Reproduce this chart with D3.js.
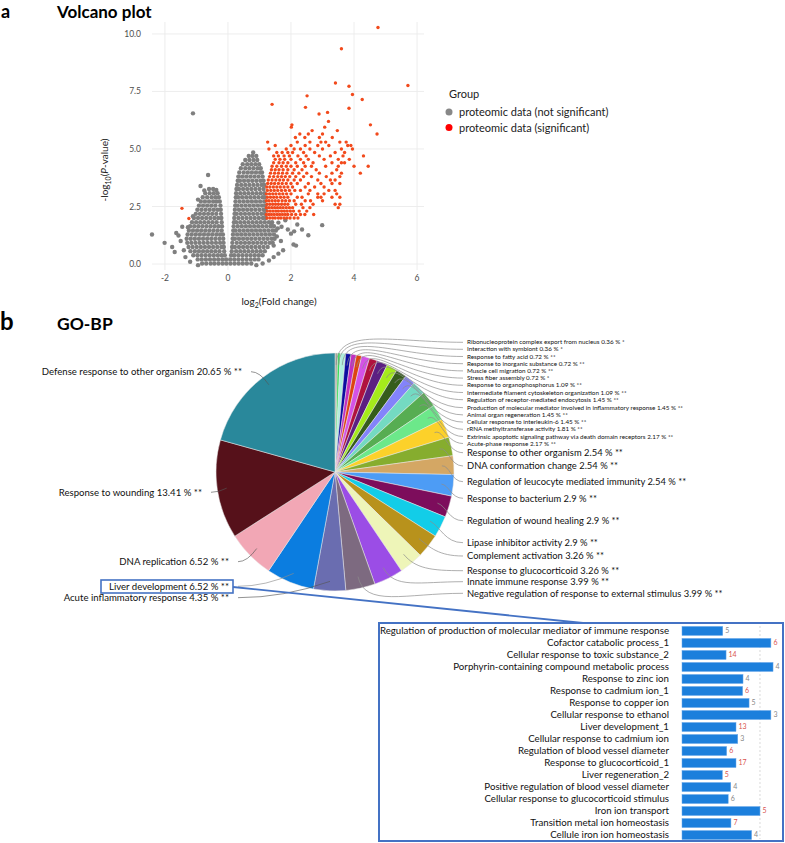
<!DOCTYPE html>
<html><head><meta charset="utf-8">
<script src="https://cdn.jsdelivr.net/npm/d3@7"></script>
<style>
body{margin:0;background:#fff}
svg{display:block}
text{font-family:Lato,"Open Sans","DejaVu Sans",sans-serif}
</style>
</head><body>
<svg id="chart" width="785" height="843"></svg>
<script>
// ---------------- DATA ----------------
const volcanoXTicks = [-2, 0, 2, 4, 6];
const volcanoYTicks = [0, 2.5, 5, 7.5, 10];
const legendTitle = "Group";
const legendLabels = ["proteomic data (not significant)", "proteomic data (significant)"];

// dense non-significant cloud, read row by row: [log10P, [log2FC ...]]
const grayRows = [
  [0.02, [-0.82,-0.69,-0.55,-0.43,-0.3,-0.17,-0.05,0.08,0.21,0.34,0.47,0.6,0.74]],
  [0.2,  [-0.96,-0.83,-0.7,-0.57,-0.44,-0.31,-0.18,-0.06,0.07,0.2,0.33,0.46,0.59,0.72,0.85,0.97]],
  [0.38, [-1.1,-0.97,-0.84,-0.71,-0.58,-0.45,-0.32,-0.2,-0.1,0.1,0.2,0.33,0.46,0.59,0.72,0.85,0.98,1.1]],
  [0.56, [-1.19,-1.05,-0.92,-0.79,-0.66,-0.53,-0.4,-0.27,-0.12,0.12,0.26,0.39,0.52,0.65,0.78,0.91,1.04,1.17]],
  [0.74, [-1.25,-1.12,-0.99,-0.86,-0.73,-0.6,-0.47,-0.34,-0.21,-0.13,0.13,0.22,0.35,0.48,0.61,0.74,0.87,1.0,1.13,1.26]],
  [0.92, [-1.29,-1.16,-1.03,-0.9,-0.77,-0.64,-0.51,-0.38,-0.25,-0.14,0.14,0.28,0.41,0.54,0.67,0.8,0.93,1.06,1.19,1.32,1.42]],
  [1.1,  [-1.31,-1.18,-1.05,-0.92,-0.79,-0.66,-0.53,-0.4,-0.27,-0.15,0.15,0.22,0.35,0.48,0.61,0.74,0.87,1.0,1.13,1.26,1.39,1.48]],
  [1.28, [-1.28,-1.15,-1.02,-0.89,-0.76,-0.63,-0.5,-0.37,-0.25,-0.16,0.16,0.29,0.42,0.55,0.68,0.81,0.94,1.07,1.2,1.33,1.46]],
  [1.46, [-1.24,-1.11,-0.98,-0.85,-0.72,-0.59,-0.46,-0.33,-0.2,0.17,0.24,0.37,0.5,0.63,0.76,0.89,1.02,1.15,1.28,1.41,1.52]],
  [1.64, [-1.2,-1.07,-0.94,-0.81,-0.68,-0.55,-0.42,-0.3,-0.19,0.18,0.31,0.44,0.57,0.7,0.83,0.96,1.09,1.22,1.35,1.46]],
  [1.82, [-1.14,-1.01,-0.88,-0.75,-0.62,-0.49,-0.36,-0.2,0.19,0.26,0.39,0.52,0.65,0.78,0.91,1.04,1.17,1.3,1.4]],
  [2.0,  [-1.08,-0.95,-0.82,-0.69,-0.56,-0.43,-0.31,-0.21,0.2,0.33,0.46,0.59,0.72,0.85,0.98,1.11,1.2]],
  [2.18, [-1.02,-0.89,-0.76,-0.63,-0.5,-0.37,-0.22,0.21,0.28,0.41,0.54,0.67,0.8,0.93,1.06,1.17]],
  [2.36, [-0.97,-0.84,-0.71,-0.58,-0.45,-0.33,-0.23,0.22,0.35,0.48,0.61,0.74,0.87,1.0,1.13,1.19]],
  [2.54, [-0.92,-0.79,-0.66,-0.53,-0.4,-0.24,0.23,0.3,0.43,0.56,0.69,0.82,0.95,1.08,1.18]],
  [2.72, [-0.86,-0.73,-0.6,-0.47,-0.36,-0.26,0.24,0.37,0.5,0.63,0.76,0.89,1.02,1.15]],
  [2.9,  [-0.8,-0.66,-0.52,-0.4,-0.29,0.25,0.32,0.45,0.58,0.71,0.84,0.97,1.1,1.17]],
  [3.08, [-0.72,-0.58,-0.45,-0.33,0.26,0.39,0.52,0.65,0.78,0.91,1.04,1.16]],
  [3.26, [-0.6,-0.47,0.27,0.35,0.48,0.61,0.74,0.87,1.0,1.13]],
  [3.44, [0.29,0.42,0.55,0.68,0.81,0.94,1.07,1.15]],
  [3.62, [0.31,0.38,0.51,0.64,0.77,0.9,1.03,1.13]],
  [3.8,  [0.33,0.45,0.58,0.71,0.84,0.97,1.1]],
  [3.98, [0.36,0.5,0.63,0.76,0.89,1.02,1.08]],
  [4.16, [0.41,0.55,0.68,0.81,0.94,1.04]],
  [4.34, [0.47,0.61,0.74,0.87,0.99]],
  [4.52, [0.55,0.68,0.81,0.93]],
  [4.7,  [0.66,0.78,0.9]]
];
// scattered non-significant proteins: [log2FC, log10P]
const grayExtra = [
  [-2.41,1.28],[-2.01,0.92],[-1.77,0.74],[-1.69,0.52],[-1.64,1.35],[-1.57,1.24],[-1.45,1.62],
  [-1.5,1.0],[-1.4,0.6],[-1.27,1.6],[-1.11,2.08],[-0.87,3.39],[-0.63,3.87],[-0.37,3.22],
  [-1.11,6.55],[-0.95,2.8],[-0.75,3.2],[-1.35,0.3],[-1.2,0.1],[-0.95,-0.05],[0.9,-0.05],[1.1,0.02],
  [1.6,1.8],[1.7,1.62],[1.82,1.9],[1.55,1.2],[1.68,1.0],[1.9,1.5],[2.0,1.32],[2.1,1.42],
  [2.2,1.72],[2.35,1.5],[2.08,0.85],[2.16,0.8],[2.55,1.25],[2.99,1.69],[1.75,0.6],[1.6,0.45],
  [1.45,0.3],[1.3,0.15],[1.45,0.8],[0.8,4.85],[1.58,1.55],[1.38,1.7]
];
// significant proteins, read row by row: [log10P, [log2FC ...]]
const redRows = [
  [2.0,  [1.24,1.33,1.42,1.5,1.6,1.68,1.78,1.87,1.97,2.1,2.22]],
  [2.15, [1.22,1.3,1.38,1.47,1.56,1.64,1.73,1.82,1.9,2.02,2.15,2.3,2.44,2.72]],
  [2.3,  [1.25,1.34,1.43,1.52,1.6,1.7,1.79,1.88,1.98,2.08,2.26,2.5]],
  [2.45, [1.22,1.3,1.39,1.48,1.57,1.66,1.75,1.85,1.95,2.05,2.38,2.6,3.5]],
  [2.6,  [1.24,1.33,1.42,1.51,1.6,1.7,1.8,1.9,2.15,2.33,2.7,3.4,3.55]],
  [2.75, [1.22,1.3,1.4,1.5,1.6,1.72,1.83,1.95,2.1,2.45,2.62,3.0]],
  [2.9,  [1.25,1.35,1.45,1.55,1.67,1.78,1.9,2.2,2.35,2.85,2.95,3.3,3.55]],
  [3.05, [1.22,1.32,1.42,1.52,1.63,1.74,1.86,2.0,2.55,2.85,3.05,3.45]],
  [3.2,  [1.25,1.36,1.47,1.58,1.7,1.82,1.95,2.12,2.3,2.6,3.2,3.4]],
  [3.35, [1.23,1.33,1.44,1.55,1.66,1.78,1.9,2.05,2.45,2.75,3.05]],
  [3.5,  [1.26,1.37,1.48,1.6,1.72,1.85,2.0,2.2,2.55,2.95,3.3,3.55]],
  [3.65, [1.28,1.4,1.52,1.64,1.76,1.9,2.1,2.3,2.85,3.25,3.4]],
  [3.8,  [1.32,1.45,1.58,1.7,1.82,1.96,2.15,2.4,2.65,3.12,3.55]],
  [3.95, [1.35,1.48,1.6,1.73,1.87,2.05,2.25,2.5,2.9,3.3,3.6,4.2]],
  [4.1,  [1.38,1.5,1.62,1.75,1.9,2.1,2.35,2.8,3.45]],
  [4.25, [1.4,1.55,1.7,1.85,2.0,2.2,2.45,2.65,3.1,3.5,4.0,4.45]],
  [4.4,  [1.45,1.62,1.75,1.9,2.15,2.4,2.7,3.3,3.6,3.7]],
  [4.55, [1.5,1.65,1.8,2.0,2.3,2.55,3.05,3.5,3.85]],
  [4.7,  [1.45,1.6,1.78,1.95,2.22,2.48,2.9,3.25,3.65,4.3]],
  [4.85, [1.55,1.72,1.9,2.05,2.4,2.75,3.4,3.7]],
  [5.0,  [1.3,1.85,2.1,2.3,2.6,3.0,3.6,3.95]],
  [5.15, [1.5,2.0,2.45,2.85,3.2,3.8,3.9]],
  [5.3,  [1.26,2.2,2.6,2.95,3.1,3.55,3.75]],
  [5.5,  [2.14,2.44,2.9,3.31]],
  [5.65, [2.28,2.55,3.0,4.73]],
  [5.8,  [2.67,3.47]],
  [5.95, [2.01,3.07]],
  [6.05, [2.03,4.52]],
  [6.2,  [3.19]]
];
const redExtra = [
  [2.89,6.52],[3.16,6.59],[3.84,6.77],[2.46,6.81],[1.40,6.94],[2.51,7.31],[4.26,7.15],
  [3.95,7.37],[3.84,7.73],[3.41,7.87],[5.71,7.76],[3.60,9.36],[4.76,10.28],
  [-1.46,2.42],[-1.24,1.98]
];

// GO-BP pie (clockwise from 12 o'clock)
const goTerms = [
  "Ribonucleoprotein complex export from nucleus","Interaction with symbiont","Response to fatty acid",
  "Response to inorganic substance","Muscle cell migration","Stress fiber assembly",
  "Response to organophosphorus","Intermediate filament cytoskeleton organization",
  "Regulation of receptor-mediated endocytosis","Production of molecular mediator involved in inflammatory response",
  "Animal organ regeneration","Cellular response to interleukin-6","rRNA methyltransferase activity",
  "Extrinsic apoptotic signaling pathway via death domain receptors","Acute-phase response",
  "Response to other organism","DNA conformation change","Regulation of leucocyte mediated immunity",
  "Response to bacterium","Regulation of wound healing","Lipase inhibitor activity","Complement activation",
  "Response to glucocorticoid","Innate immune response","Negative regulation of response to external stimulus",
  "Acute inflammatory response","Liver development","DNA replication","Response to wounding",
  "Defense response to other organism"
];
const goPercent = [0.36,0.36,0.72,0.72,0.72,0.72,1.09,1.09,1.45,1.45,1.45,1.45,1.81,2.17,2.17,
  2.54,2.54,2.54,2.9,2.9,2.9,3.26,3.26,3.99,3.99,4.35,6.52,6.52,13.41,20.65];
const goStars = ["*","*","**","**","**","*","**","**","**","**","**","**","**","**","**",
  "**","**","**","**","**","**","**","**","**","**","**","**","**","**","**"];

// Liver development detail bars
const barTerms = [
  "Regulation of production of molecular mediator of immune response","Cofactor catabolic process_1",
  "Cellular response to toxic substance_2","Porphyrin-containing compound metabolic process",
  "Response to zinc ion","Response to cadmium ion_1","Response to copper ion","Cellular response to ethanol",
  "Liver development_1","Cellular response to cadmium ion","Regulation of blood vessel diameter",
  "Response to glucocorticoid_1","Liver regeneration_2","Positive regulation of blood vessel diameter",
  "Cellular response to glucocorticoid stimulus","Iron ion transport","Transition metal ion homeostasis",
  "Cellule iron ion homeostasis"
];
const barValues = [2.09,4.56,2.26,4.67,3.13,3.11,3.44,4.56,2.77,2.86,2.29,2.77,2.07,2.5,2.37,4.0,2.51,3.57];
const barCounts = ["5","6","14","4","4","6","5","3","13","3","6","17","5","4","6","5","7","4"];
const barMarked = [false,true,true,false,false,true,false,false,true,false,true,true,true,false,false,true,true,false];

// ---------------- STYLE ----------------
const goColors = ["#a6a69a","#3adb5c","#aeeedd","#0c0ca0","#c12fc0","#dd4411","#d452e6","#b0123e",
  "#5c1f82","#a5eb1b","#365d1c","#8383fb","#74dac2","#57ad52","#6ce88a","#fcd12a","#86ad2e","#d4a764",
  "#4d9cf5","#7d0d5c","#12cde8","#b8921c","#eef5b8","#9b4de6","#7d6a80","#6a6db0","#0b7de0","#f2a7b5",
  "#56111a","#29889b"];
const labelY = [342.3,349.3,356.5,363.7,370.9,378.1,385.3,392.5,399.7,407.7,414.9,422.1,429.3,436.5,443.5,
  452.7,466,481.7,498.3,520.7,542.7,556,570.7,581.7,593.3,
  597.7,586.3,561.7,492.3,371.7];
const leftLabelEnd = {25:229, 26:229, 27:229, 28:202, 29:242};

const svg = d3.select("#chart");

// ---------------- PANEL a: volcano ----------------
svg.append("text").attr("x",1).attr("y",18).attr("font-size",18).attr("font-weight",700).text("a");
svg.append("text").attr("x",57).attr("y",18).attr("font-size",17).attr("font-weight",700).text("Volcano plot");

const vx = d3.scaleLinear().domain([-2.41, 6.22]).range([152, 424]);
const vy = d3.scaleLinear().domain([-0.26, 10.52]).range([270, 22]);
const gV = svg.append("g");
gV.selectAll("line.gx").data(volcanoXTicks).join("line")
  .attr("x1",d=>vx(d)).attr("x2",d=>vx(d)).attr("y1",22).attr("y2",270)
  .attr("stroke","#ebebeb").attr("stroke-width",0.9);
gV.selectAll("line.gy").data(volcanoYTicks).join("line")
  .attr("y1",d=>vy(d)).attr("y2",d=>vy(d)).attr("x1",152).attr("x2",424)
  .attr("stroke","#ebebeb").attr("stroke-width",0.9);
gV.selectAll("text.tx").data(volcanoXTicks).join("text")
  .attr("x",d=>vx(d)).attr("y",281).attr("text-anchor","middle").attr("font-size",8.5).attr("fill","#4d4d4d")
  .text(d=>d);
gV.selectAll("text.ty").data(volcanoYTicks).join("text")
  .attr("x",141).attr("y",d=>vy(d)+3).attr("text-anchor","end").attr("font-size",8.5).attr("fill","#4d4d4d")
  .text(d=>d3.format(".1f")(d));

const xl = gV.append("text").attr("x",279).attr("y",305).attr("text-anchor","middle").attr("font-size",10).attr("fill","#222");
xl.append("tspan").text("log");
xl.append("tspan").attr("font-size",7).attr("dy",2.5).text("2");
xl.append("tspan").attr("dy",-2.5).text("(Fold change)");
const yl = gV.append("text").attr("transform","translate(108,170) rotate(-90)").attr("text-anchor","middle").attr("font-size",10).attr("fill","#222");
yl.append("tspan").text("-log");
yl.append("tspan").attr("font-size",7).attr("dy",2.5).text("10");
yl.append("tspan").attr("dy",-2.5).text("(");
yl.append("tspan").attr("font-style","italic").text("P");
yl.append("tspan").text("-value)");

const grayPts = grayRows.flatMap(([y, xs]) => xs.map(x => [x, y])).concat(grayExtra);
const redPts = redRows.flatMap(([y, xs]) => xs.map(x => [x, y])).concat(redExtra);
gV.append("g").selectAll("circle").data(grayPts).join("circle")
  .attr("cx",d=>vx(d[0])).attr("cy",d=>vy(d[1])).attr("r",2.2).attr("fill","#7f7f7f");
gV.append("g").selectAll("circle").data(redPts).join("circle")
  .attr("cx",d=>vx(d[0])).attr("cy",d=>vy(d[1])).attr("r",1.7).attr("fill","#f24a1c");

// legend
const lg = svg.append("g");
lg.append("text").attr("x",449).attr("y",98).attr("font-size",11).attr("fill","#222").text(legendTitle);
lg.selectAll("circle").data(legendLabels).join("circle")
  .attr("cx",449).attr("cy",(d,i)=>112+i*15.5).attr("r",3.5).attr("fill",(d,i)=>i?"#ff0000":"#888");
lg.selectAll("text.it").data(legendLabels).join("text")
  .attr("x",459).attr("y",(d,i)=>116+i*15.5).attr("font-size",11).attr("fill","#222").text(d=>d);

// ---------------- PANEL b: pie ----------------
svg.append("text").attr("x",0).attr("y",330).attr("font-size",24).attr("font-weight",700).text("b");
svg.append("text").attr("x",57).attr("y",330).attr("font-size",17.5).attr("font-weight",700).text("GO-BP");

const cx = 335, cy = 472, R = 119;
const pieData = goTerms.map((t,i)=>({term:t, pct:goPercent[i], stars:goStars[i], i}));
const arcs = d3.pie().sort(null).value(d=>d.pct)(pieData);
const arcGen = d3.arc().innerRadius(0).outerRadius(R);
const gP = svg.append("g").attr("transform",`translate(${cx},${cy})`);
gP.selectAll("path").data(arcs).join("path")
  .attr("d",arcGen).attr("fill",d=>goColors[d.index]).attr("stroke","#e8e8e8").attr("stroke-width",0.5);

function anchorPt(a, k){
  const m = (a.startAngle + a.endAngle)/2;
  return [cx + R*k*Math.sin(m), cy - R*k*Math.cos(m), Math.sin(m), -Math.cos(m)];
}
const gL = svg.append("g");
arcs.forEach(a=>{
  const i = a.index;
  const y = labelY[i];
  const txt = `${a.data.term} ${a.data.pct} % ${a.data.stars}`;
  if (i < 25) {
    const small = i < 15;
    const [ax, ay, ux, uy] = anchorPt(a, 0.9);
    const sx = 463, sy = y;
    const dist = Math.hypot(sx-ax, sy-ay);
    const c1x = sx - 0.55*Math.abs(sx-ax), c1y = sy;
    const c2x = ax + ux*0.3*dist, c2y = ay + uy*0.3*dist;
    gL.append("path").attr("d",`M${sx},${sy}C${c1x},${c1y} ${c2x},${c2y} ${ax},${ay}`)
      .attr("fill","none").attr("stroke","#8c8c8c").attr("stroke-width",0.7);
    gL.append("text").attr("x",467).attr("y",y+(small?2.1:3.3)).attr("font-size",small?6.3:9.4)
      .attr("fill","#111").text(txt);
  } else {
    const end = leftLabelEnd[i];
    const [ax, ay] = anchorPt(a, 0.92);
    const sx = end + 9, sy = y;
    const c1x = sx + 0.5*(ax - sx), c1y = sy;
    gL.append("path").attr("d",`M${sx},${sy}Q${c1x},${c1y} ${ax},${ay}`)
      .attr("fill","none").attr("stroke", i===26 ? "#8c8c8c" : "#555").attr("stroke-width",0.8)
      .attr("opacity", 0.8);
    gL.append("text").attr("x",end).attr("y",y+3.3).attr("text-anchor","end").attr("font-size",9.6)
      .attr("fill","#111").text(txt);
  }
});
// highlight box around Liver development label and connector
svg.append("rect").attr("x",101).attr("y",580).attr("width",132).attr("height",13)
  .attr("fill","none").attr("stroke","#4472c4").attr("stroke-width",1.6);
svg.append("line").attr("x1",233).attr("y1",587).attr("x2",583).attr("y2",623)
  .attr("stroke","#4472c4").attr("stroke-width",1.8);

// ---------------- detail bar chart ----------------
const bx = d3.scaleLinear().domain([0, 5.13]).range([682, 782]);
const by = d3.scaleBand().domain(barTerms).range([625, 841]).paddingInner(0.25).paddingOuter(0.12);
const gB = svg.append("g");
gB.append("rect").attr("x",379).attr("y",623).attr("width",404).attr("height",218)
  .attr("fill","#fff").attr("stroke","#4472c4").attr("stroke-width",2);
gB.selectAll("line.grid").data([4]).join("line")
  .attr("x1",d=>bx(d)).attr("x2",d=>bx(d)).attr("y1",626).attr("y2",839)
  .attr("stroke","#cfcfcf").attr("stroke-width",0.8).attr("stroke-dasharray","2,2");
gB.selectAll("rect.bar").data(barTerms).join("rect")
  .attr("x",bx(0)).attr("y",d=>by(d)).attr("height",by.bandwidth())
  .attr("width",(d,i)=>bx(barValues[i])-bx(0)).attr("fill","#1c7fdc").attr("stroke","#6aa8ea").attr("stroke-width",0.5);
gB.selectAll("text.lab").data(barTerms).join("text")
  .attr("x",669).attr("y",d=>by(d)+by.bandwidth()/2+3.4).attr("text-anchor","end")
  .attr("font-size",9.7).attr("fill","#111").text(d=>d);
gB.selectAll("text.val").data(barTerms).join("text")
  .attr("x",(d,i)=>bx(barValues[i])+2.5).attr("y",d=>by(d)+by.bandwidth()/2+2.4)
  .attr("font-size",7).attr("fill",(d,i)=>barMarked[i]?"#d9534f":"#888").text((d,i)=>barCounts[i]);
</script>
</body></html>
